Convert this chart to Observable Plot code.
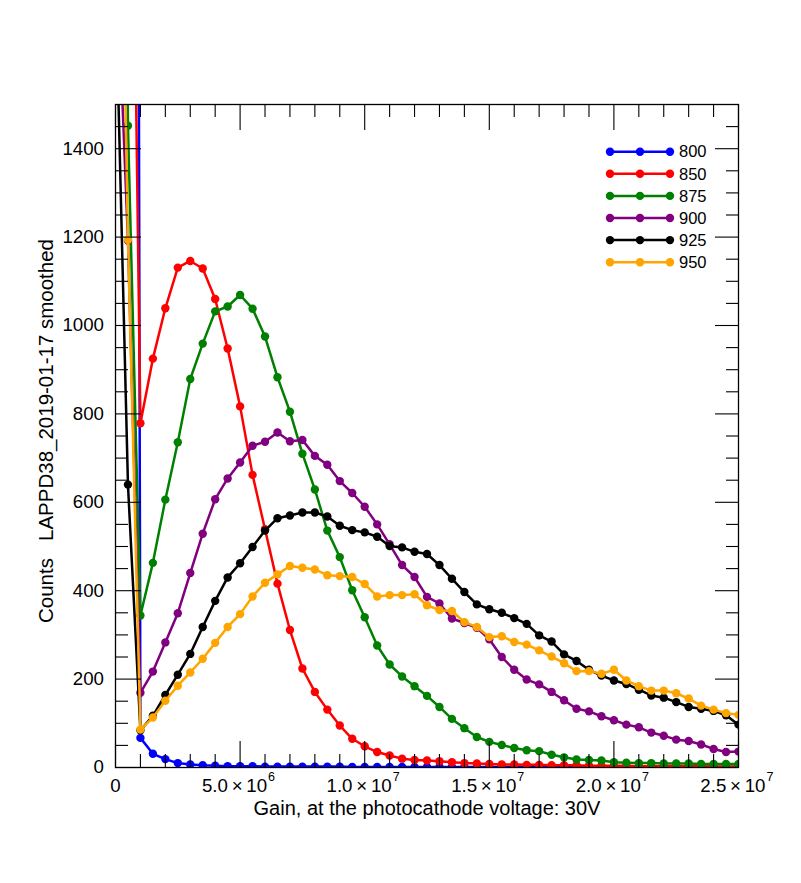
<!DOCTYPE html>
<html><head><meta charset="utf-8">
<script src="https://cdn.jsdelivr.net/npm/d3@7"></script>
<script src="https://cdn.jsdelivr.net/npm/@observablehq/plot@0.6"></script>
<style>
html,body{margin:0;padding:0;background:#fff}
svg text{white-space:pre}
</style>
</head><body><div id="chart"></div>
<script>
// ---- data ----
const gains = [0, 5e5, 1e6, 1.5e6, 2e6, 2.5e6, 3e6, 3.5e6, 4e6, 4.5e6,
  5e6, 5.5e6, 6e6, 6.5e6, 7e6, 7.5e6, 8e6, 8.5e6, 9e6, 9.5e6,
  1e7, 1.05e7, 1.1e7, 1.15e7, 1.2e7, 1.25e7, 1.3e7, 1.35e7, 1.4e7, 1.45e7,
  1.5e7, 1.55e7, 1.6e7, 1.65e7, 1.7e7, 1.75e7, 1.8e7, 1.85e7, 1.9e7, 1.95e7,
  2e7, 2.05e7, 2.1e7, 2.15e7, 2.2e7, 2.25e7, 2.3e7, 2.35e7, 2.4e7, 2.45e7,
  2.5e7];
const names = ["800", "850", "875", "900", "925", "950"];
const colors = ["#0000ff", "#ff0000", "#008000", "#800080", "#000000", "#ffa500"];

const c800 = [20000, 12000, 67, 31, 19, 10, 7, 5, 4, 3,
  3, 3, 2, 2, 2, 2, 2, 2, 2, 1,
  1, 1, 1, 1, 1, 1, 1, 1, 1, 1,
  1, 1, 1, 1, 1, 1, 1, 1, 1, 1,
  1, 1, 1, 1, 1, 1, 1, 1, 1, 1,
  1];
const c850 = [6000, 2900, 779, 925, 1039, 1131, 1146, 1129, 1060, 948,
  817, 662, 539, 416, 311, 224, 171, 131, 95, 65,
  48, 35, 27, 20, 17, 16, 14, 12, 10, 9,
  8, 7, 7, 6, 6, 5, 5, 5, 4, 4,
  4, 4, 3, 3, 3, 3, 3, 3, 2, 2,
  2];
const c875 = [5000, 1452, 344, 463, 606, 736, 879, 959, 1032, 1043,
  1069, 1038, 975, 883, 805, 710, 629, 536, 476, 401,
  340, 276, 233, 206, 184, 162, 137, 110, 89, 69,
  58, 51, 44, 39, 37, 29, 23, 18, 17, 16,
  12, 11, 10, 10, 9, 9, 9, 8, 8, 8,
  8];
const c900 = [1900, 1192, 169, 217, 283, 349, 440, 529, 607, 654,
  690, 728, 737, 758, 738, 741, 705, 685, 648, 621,
  590, 550, 505, 458, 431, 386, 371, 337, 327, 316,
  290, 250, 221, 199, 188, 171, 152, 133, 127, 116,
  107, 97, 91, 79, 72, 63, 60, 52, 42, 35,
  36];
const c925 = [1780, 640, 84, 117, 164, 210, 257, 318, 377, 430,
  462, 499, 536, 564, 570, 577, 577, 568, 547, 537,
  532, 522, 501, 498, 488, 483, 458, 427, 397, 369,
  358, 350, 338, 325, 299, 285, 256, 241, 221, 208,
  197, 189, 176, 163, 158, 148, 137, 133, 128, 118,
  97];
const c950 = [2750, 1194, 86, 113, 151, 185, 215, 246, 282, 318,
  347, 387, 418, 437, 456, 452, 448, 435, 433, 431,
  415, 387, 390, 390, 392, 367, 356, 354, 329, 318,
  295, 297, 284, 278, 265, 251, 236, 218, 218, 212,
  221, 197, 184, 174, 174, 168, 156, 140, 131, 123,
  119];
const seriesValues = [c800, c850, c875, c900, c925, c950];

const xMajor = [0, 5e6, 1e7, 1.5e7, 2e7, 2.5e7];
const xMinor = [1e6, 2e6, 3e6, 4e6, 6e6, 7e6, 8e6, 9e6, 1.1e7, 1.2e7, 1.3e7, 1.4e7,
  1.6e7, 1.7e7, 1.8e7, 1.9e7, 2.1e7, 2.2e7, 2.3e7, 2.4e7];
const yMajor = [0, 200, 400, 600, 800, 1000, 1200, 1400];
const yMinor = [50, 100, 150, 250, 300, 350, 450, 500, 550, 650, 700, 750,
  850, 900, 950, 1050, 1100, 1150, 1250, 1300, 1350, 1450];
const xLabelPos = [5e6, 1e7, 1.5e7, 2e7, 2.5e7];
const xLabelMantissa = ["5.0\u2009×\u200910", "1.0\u2009×\u200910", "1.5\u2009×\u200910", "2.0\u2009×\u200910", "2.5\u2009×\u200910"];
const xLabelExp = ["6", "7", "7", "7", "7"];
const xTitle = "Gain, at the photocathode voltage: 30V";
const yTitle = "Counts   LAPPD38_2019-01-17 smoothed";

// ---- layout ----
const W = 801, H = 883, mt = 104, mb = 116, ml = 115, mr = 63;
const ph = H - mt - mb, pw = W - ml - mr;
const font = "'Liberation Sans', Arial, Helvetica, sans-serif";

const rows = names.flatMap((n, s) => gains.map((g, i) => ({gain: g, counts: seriesValues[s][i], series: n})));

const seriesMarks = names.flatMap(n => {
  const d = rows.filter(r => r.series === n);
  return [
    Plot.line(d, {x: "gain", y: "counts", stroke: "series", strokeWidth: 2.5, clip: true}),
    Plot.dot(d, {x: "gain", y: "counts", fill: "series", r: 4.2, clip: true})
  ];
});

const tickStyle = {stroke: "black", strokeWidth: 1.1};
const txt = {fill: "black", lineAnchor: "middle"};
const svg = Plot.plot({
  width: W, height: H,
  marginTop: mt, marginBottom: mb, marginLeft: ml, marginRight: mr,
  style: {fontFamily: font, background: "#fff"},
  x: {domain: [0, 2.5e7], axis: null},
  y: {domain: [0, 1500], axis: null},
  color: {domain: names, range: colors},
  marks: [
    ...seriesMarks,
    Plot.tickX(xMajor, {x: d => d, insetTop: ph - 26, ...tickStyle}),
    Plot.tickX(xMinor, {x: d => d, insetTop: ph - 13, ...tickStyle}),
    Plot.tickX(xMajor, {x: d => d, insetBottom: ph - 26, ...tickStyle}),
    Plot.tickX(xMinor, {x: d => d, insetBottom: ph - 13, ...tickStyle}),
    Plot.tickY(yMajor, {y: d => d, insetRight: pw - 26, ...tickStyle}),
    Plot.tickY(yMinor, {y: d => d, insetRight: pw - 13, ...tickStyle}),
    Plot.tickY(yMajor, {y: d => d, insetLeft: pw - 23, ...tickStyle}),
    Plot.tickY(yMinor, {y: d => d, insetLeft: pw - 12, ...tickStyle}),
    Plot.frame({stroke: "black", strokeWidth: 1.3}),
    Plot.text(yMajor, {y: d => d, text: d => String(d), frameAnchor: "left", textAnchor: "end", dx: -11.5, fontSize: 18.7, ...txt}),
    Plot.text([0], {x: d => d, text: d => "0", frameAnchor: "bottom", textAnchor: "middle", dy: 18.5, fontSize: 18.7, ...txt}),
    Plot.text(xLabelPos, {x: d => d, text: (d, i) => xLabelMantissa[i], frameAnchor: "bottom", textAnchor: "end", dx: 27, dy: 18.5, fontSize: 18.7, ...txt}),
    Plot.text(xLabelPos, {x: d => d, text: (d, i) => xLabelExp[i], frameAnchor: "bottom", textAnchor: "start", dx: 28, dy: 9.7, fontSize: 12.5, ...txt}),
    Plot.text([xTitle], {text: d => d, frameAnchor: "bottom", textAnchor: "middle", dy: 40.6, fontSize: 20, ...txt}),
    Plot.text([yTitle], {text: d => d, frameAnchor: "left", textAnchor: "middle", dx: -69, dy: -5, rotate: -90, fontSize: 20.5, ...txt})
  ]
});

// legend
const g = d3.select(svg).append("g").attr("font-family", font);
names.forEach((n, i) => {
  const yy = 151.7 + i * 22.1;
  g.append("line").attr("x1", 610).attr("x2", 670).attr("y1", yy).attr("y2", yy)
    .attr("stroke", colors[i]).attr("stroke-width", 2.5);
  [610, 640, 670].forEach(cx => g.append("circle").attr("cx", cx).attr("cy", yy).attr("r", 4.2).attr("fill", colors[i]));
  g.append("text").attr("x", 679).attr("y", yy).attr("dy", "0.35em").attr("text-anchor", "start")
    .attr("font-size", 16.5).attr("fill", "black").text(n);
});

document.getElementById("chart").appendChild(svg);
</script>
</body></html>
